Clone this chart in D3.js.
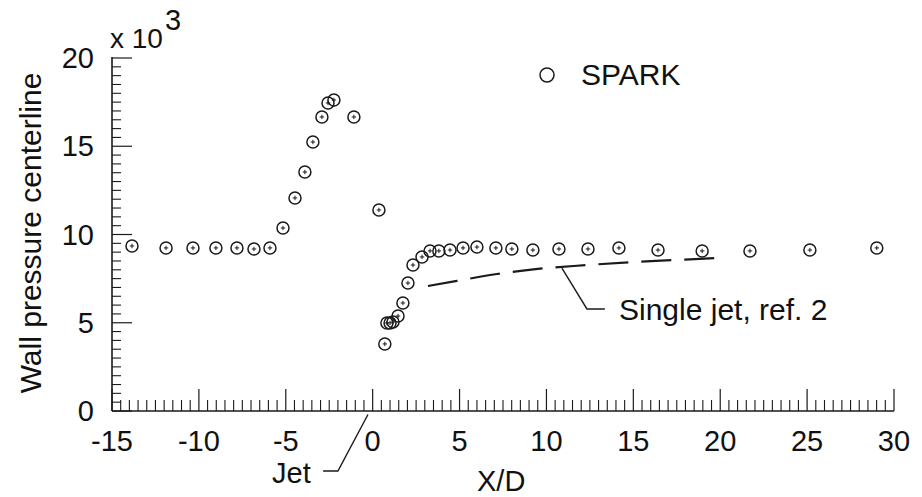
<!DOCTYPE html>
<html><head><meta charset="utf-8">
<script src="https://cdn.jsdelivr.net/npm/d3@7"></script>
<style>
html,body{margin:0;padding:0;background:#fff;}
svg text{font-family:"Liberation Sans",Arial,Helvetica,sans-serif;fill:#111;}
</style></head>
<body><svg id="c" width="922" height="497"></svg>
<script>
// SPARK wall pressure data (X/D, pressure x10^3)
const sparkX = [-13.85,-11.89,-10.34,-9.02,-7.81,-6.83,-5.91,-5.16,-4.47,-3.90,-3.44,-2.92,-2.57,-2.23,-1.08,0.36,0.70,0.82,1.00,1.17,1.46,1.74,2.03,2.32,2.84,3.30,3.81,4.45,5.20,6.00,7.09,8.01,9.22,10.72,12.39,14.17,16.42,18.96,21.71,25.16,29.01];
const sparkY = [9.35,9.24,9.24,9.24,9.24,9.18,9.24,10.37,12.07,13.54,15.24,16.66,17.45,17.62,16.66,11.39,3.80,4.99,4.99,5.04,5.38,6.12,7.25,8.27,8.73,9.07,9.07,9.12,9.24,9.29,9.24,9.18,9.12,9.18,9.18,9.24,9.12,9.07,9.07,9.12,9.24];
// Single jet, ref. 2
const singleX = [3.18,4.85,7.15,9.50,12.33,14.98,17.51,19.87];
const singleY = [7.08,7.37,7.76,8.05,8.27,8.44,8.56,8.67];
const xTicks = [-15,-10,-5,0,5,10,15,20,25,30];
const yTicks = [0,5,10,15,20];

const svg = d3.select("#c");
const x = d3.scaleLinear().domain([-15,30]).range([112,894]);
const y = d3.scaleLinear().domain([0,20]).range([411,58]);
const ink = "#1a1a1a";

// minor ticks
const xMinor = d3.range(-15,30.01,0.5).filter(v=>!xTicks.includes(v));
const yMinor = d3.range(0,20.01,0.5).filter(v=>!yTicks.includes(v));

const gx = svg.append("g");
gx.append("line").attr("x1",x(-15)).attr("x2",x(30)).attr("y1",y(0)).attr("y2",y(0)).attr("stroke",ink).attr("stroke-width",1.6);
gx.selectAll(".mj").data(xTicks).join("line")
  .attr("x1",d=>x(d)).attr("x2",d=>x(d)).attr("y1",y(0)).attr("y2",y(0)-22)
  .attr("stroke",ink).attr("stroke-width",1.2);
gx.selectAll(".mn").data(xMinor).join("line").attr("class","mn")
  .attr("x1",d=>x(d)).attr("x2",d=>x(d)).attr("y1",y(0)).attr("y2",y(0)-11)
  .attr("stroke",ink).attr("stroke-width",1.1);
gx.selectAll("text").data(xTicks).join("text")
  .attr("x",d=>x(d)).attr("y",451).attr("text-anchor","middle")
  .attr("font-size",29).text(d=>d);

const gy = svg.append("g");
gy.append("line").attr("x1",x(-15)).attr("x2",x(-15)).attr("y1",y(0)).attr("y2",y(20)-1).attr("stroke",ink).attr("stroke-width",1.6);
gy.selectAll(".mj").data(yTicks).join("line")
  .attr("x1",x(-15)).attr("x2",x(-15)+20).attr("y1",d=>y(d)).attr("y2",d=>y(d))
  .attr("stroke",ink).attr("stroke-width",1.2);
gy.selectAll(".mn").data(yMinor).join("line").attr("class","mn")
  .attr("x1",x(-15)).attr("x2",x(-15)+9).attr("y1",d=>y(d)).attr("y2",d=>y(d))
  .attr("stroke",ink).attr("stroke-width",1.1);
gy.selectAll("text").data(yTicks).join("text")
  .attr("x",94).attr("y",d=>y(d)+10).attr("text-anchor","end")
  .attr("font-size",29).text(d=>d);

// multiplier
const mult = svg.append("text").attr("x",110).attr("y",48).attr("font-size",28);
mult.append("tspan").text("x 10");
mult.append("tspan").attr("dy",-18).attr("dx",2).attr("font-size",29).text("3");

// axis titles
svg.append("text").attr("transform","translate(41,233) rotate(-90)")
  .attr("text-anchor","middle").attr("font-size",30).text("Wall pressure centerline");
svg.append("text").attr("x",477).attr("y",491).attr("font-size",29).text("X/D");

// Single jet dashed line
const line = d3.line().x(d=>x(d[0])).y(d=>y(d[1])).curve(d3.curveMonotoneX);
svg.append("path").datum(singleX.map((v,i)=>[v,singleY[i]]))
  .attr("d",line).attr("fill","none").attr("stroke",ink).attr("stroke-width",2.2)
  .attr("stroke-dasharray","30,13");

// SPARK markers
const pts = sparkX.map((v,i)=>[v,sparkY[i]]);
const g = svg.append("g").selectAll("g").data(pts).join("g")
  .attr("transform",d=>`translate(${x(d[0])},${y(d[1])})`);
g.append("circle").attr("r",6).attr("fill","none").attr("stroke",ink).attr("stroke-width",1.5);
g.append("path").attr("d","M-2.2,0H2.2M0,-2.2V2.2").attr("stroke",ink).attr("stroke-width",1);

// legend
svg.append("circle").attr("cx",547).attr("cy",75).attr("r",7).attr("fill","none").attr("stroke",ink).attr("stroke-width",1.5);
svg.append("text").attr("x",581).attr("y",85).attr("font-size",30).text("SPARK");

// annotations
const lead = d3.line().x(d=>x(d[0])).y(d=>y(d[1]));
svg.append("path").datum([[-2.85,-3.40],[-2.0,-3.40],[-0.27,-0.2]])
  .attr("d",lead).attr("fill","none").attr("stroke",ink).attr("stroke-width",1.4);
svg.append("text").attr("x",272).attr("y",483).attr("font-size",29).text("Jet");
svg.append("path").datum([[10.89,8.10],[12.33,5.78],[13.36,5.78]])
  .attr("d",lead).attr("fill","none").attr("stroke",ink).attr("stroke-width",1.4);
svg.append("text").attr("x",619).attr("y",320).attr("font-size",30).text("Single jet, ref. 2");
</script></body></html>
